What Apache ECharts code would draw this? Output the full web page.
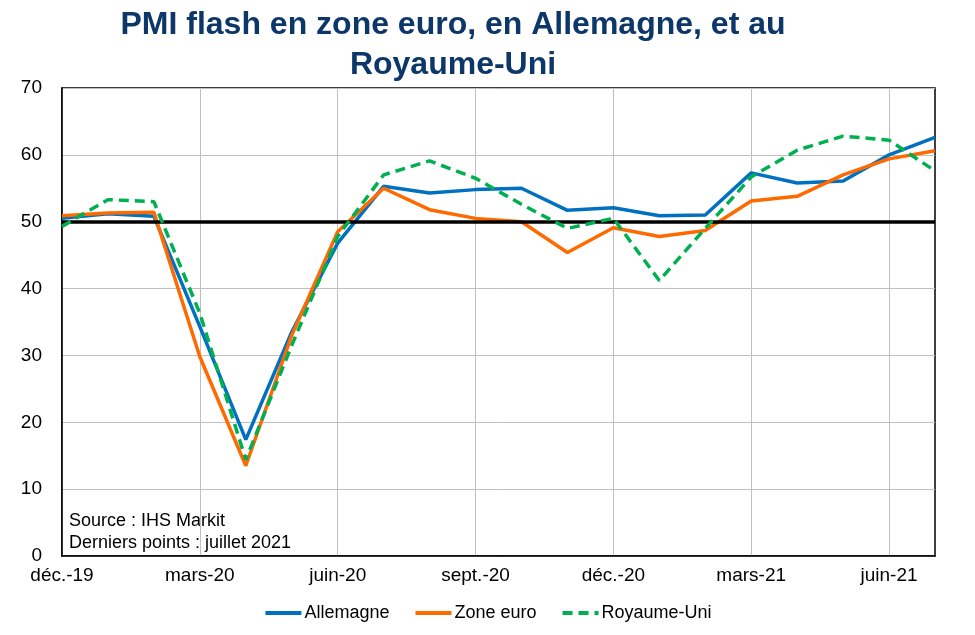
<!DOCTYPE html>
<html><head><meta charset="utf-8">
<script src="https://cdn.jsdelivr.net/npm/echarts@6/dist/echarts.min.js"></script>
<style>html,body{margin:0;padding:0;background:#fff}#c{width:975px;height:635px}</style>
</head><body><div id="c"></div>
<script>
const categories = ['déc.-19','janv.-20','févr.-20','mars-20','avr.-20','mai-20','juin-20','juil.-20','août-20','sept.-20','oct.-20','nov.-20','déc.-20','janv.-21','févr.-21','mars-21','avr.-21','mai-21','juin-21','juil.-21'];
const allemagne = [50.5,51.2,50.8,34.3,17.4,33.5,46.8,55.3,54.3,54.8,55.0,51.7,52.1,50.9,51.0,57.3,55.8,56.1,60.0,62.6];
const zoneEuro = [50.9,51.3,51.4,29.8,13.5,33.0,48.5,55.0,51.8,50.5,50.0,45.4,49.1,47.8,48.7,53.1,53.8,57.0,59.4,60.6];
const royaumeUni = [49.3,53.3,53.0,36.3,14.4,31.5,47.8,57.0,59.1,56.5,52.6,49.0,50.5,41.2,49.0,56.7,60.7,62.8,62.2,57.6];
const yTicks = [0,10,20,30,40,50,60,70];
const threshold = 50;

const chart = echarts.init(document.getElementById('c'), null, {renderer:'canvas'});
const font = 'Liberation Sans, Arial, sans-serif';
chart.setOption({
  animation:false,
  backgroundColor:'#fff',
  title:{
    text:'PMI flash en zone euro, en Allemagne, et au\nRoyaume-Uni',
    left:448, top:0, textAlign:'center',
    textStyle:{fontFamily:font,fontSize:32,fontWeight:'bold',color:'#0D3768',lineHeight:40}
  },
  grid:{left:62,right:40,top:88,bottom:79,show:true,borderColor:'#000',borderWidth:1.5,backgroundColor:'transparent'},
  legend:{
    bottom:8,left:'center',itemWidth:36,itemHeight:4,itemGap:24,
    itemStyle:{opacity:0},
    lineStyle:{width:4},
    textStyle:{fontFamily:font,fontSize:18,color:'#000',padding:[0,0,0,-2]},
    data:['Allemagne','Zone euro','Royaume-Uni']
  },
  xAxis:{
    type:'category',data:categories,boundaryGap:false,
    axisLine:{show:true,lineStyle:{color:'#000',width:1.5}},
    axisTick:{show:false},
    axisLabel:{interval:2,fontFamily:font,fontSize:19,color:'#000',margin:10},
    splitLine:{show:true,interval:2,lineStyle:{color:'#BFBFBF',width:1}}
  },
  yAxis:{
    type:'value',min:yTicks[0],max:yTicks[yTicks.length-1],interval:10,
    axisLine:{show:true,lineStyle:{color:'#000',width:1.5}},
    axisTick:{show:false},
    axisLabel:{fontFamily:font,fontSize:19,color:'#000',margin:20},
    splitLine:{show:true,lineStyle:{color:'#BFBFBF',width:1}}
  },
  graphic:[
    {type:'text',left:69,top:512,style:{text:'Source : IHS Markit',font:'18px '+font,fill:'#000'}},
    {type:'text',left:69,top:534,style:{text:'Derniers points : juillet 2021',font:'18px '+font,fill:'#000'}}
  ],
  series:[
    {name:'Allemagne',type:'line',data:allemagne,symbol:'none',lineStyle:{color:'#0070C0',width:3.5},itemStyle:{color:'#0070C0'},z:3,
     markLine:{silent:true,symbol:'none',label:{show:false},lineStyle:{color:'#000',width:3.5,type:'solid'},data:[{yAxis:threshold}]}},
    {name:'Zone euro',type:'line',data:zoneEuro,symbol:'none',lineStyle:{color:'#FF6A00',width:3.5},itemStyle:{color:'#FF6A00'},z:4},
    {name:'Royaume-Uni',type:'line',data:royaumeUni,symbol:'none',lineStyle:{color:'#00B050',width:3.5,type:[10,6]},itemStyle:{color:'#00B050'},z:5}
  ]
});
</script></body></html>
